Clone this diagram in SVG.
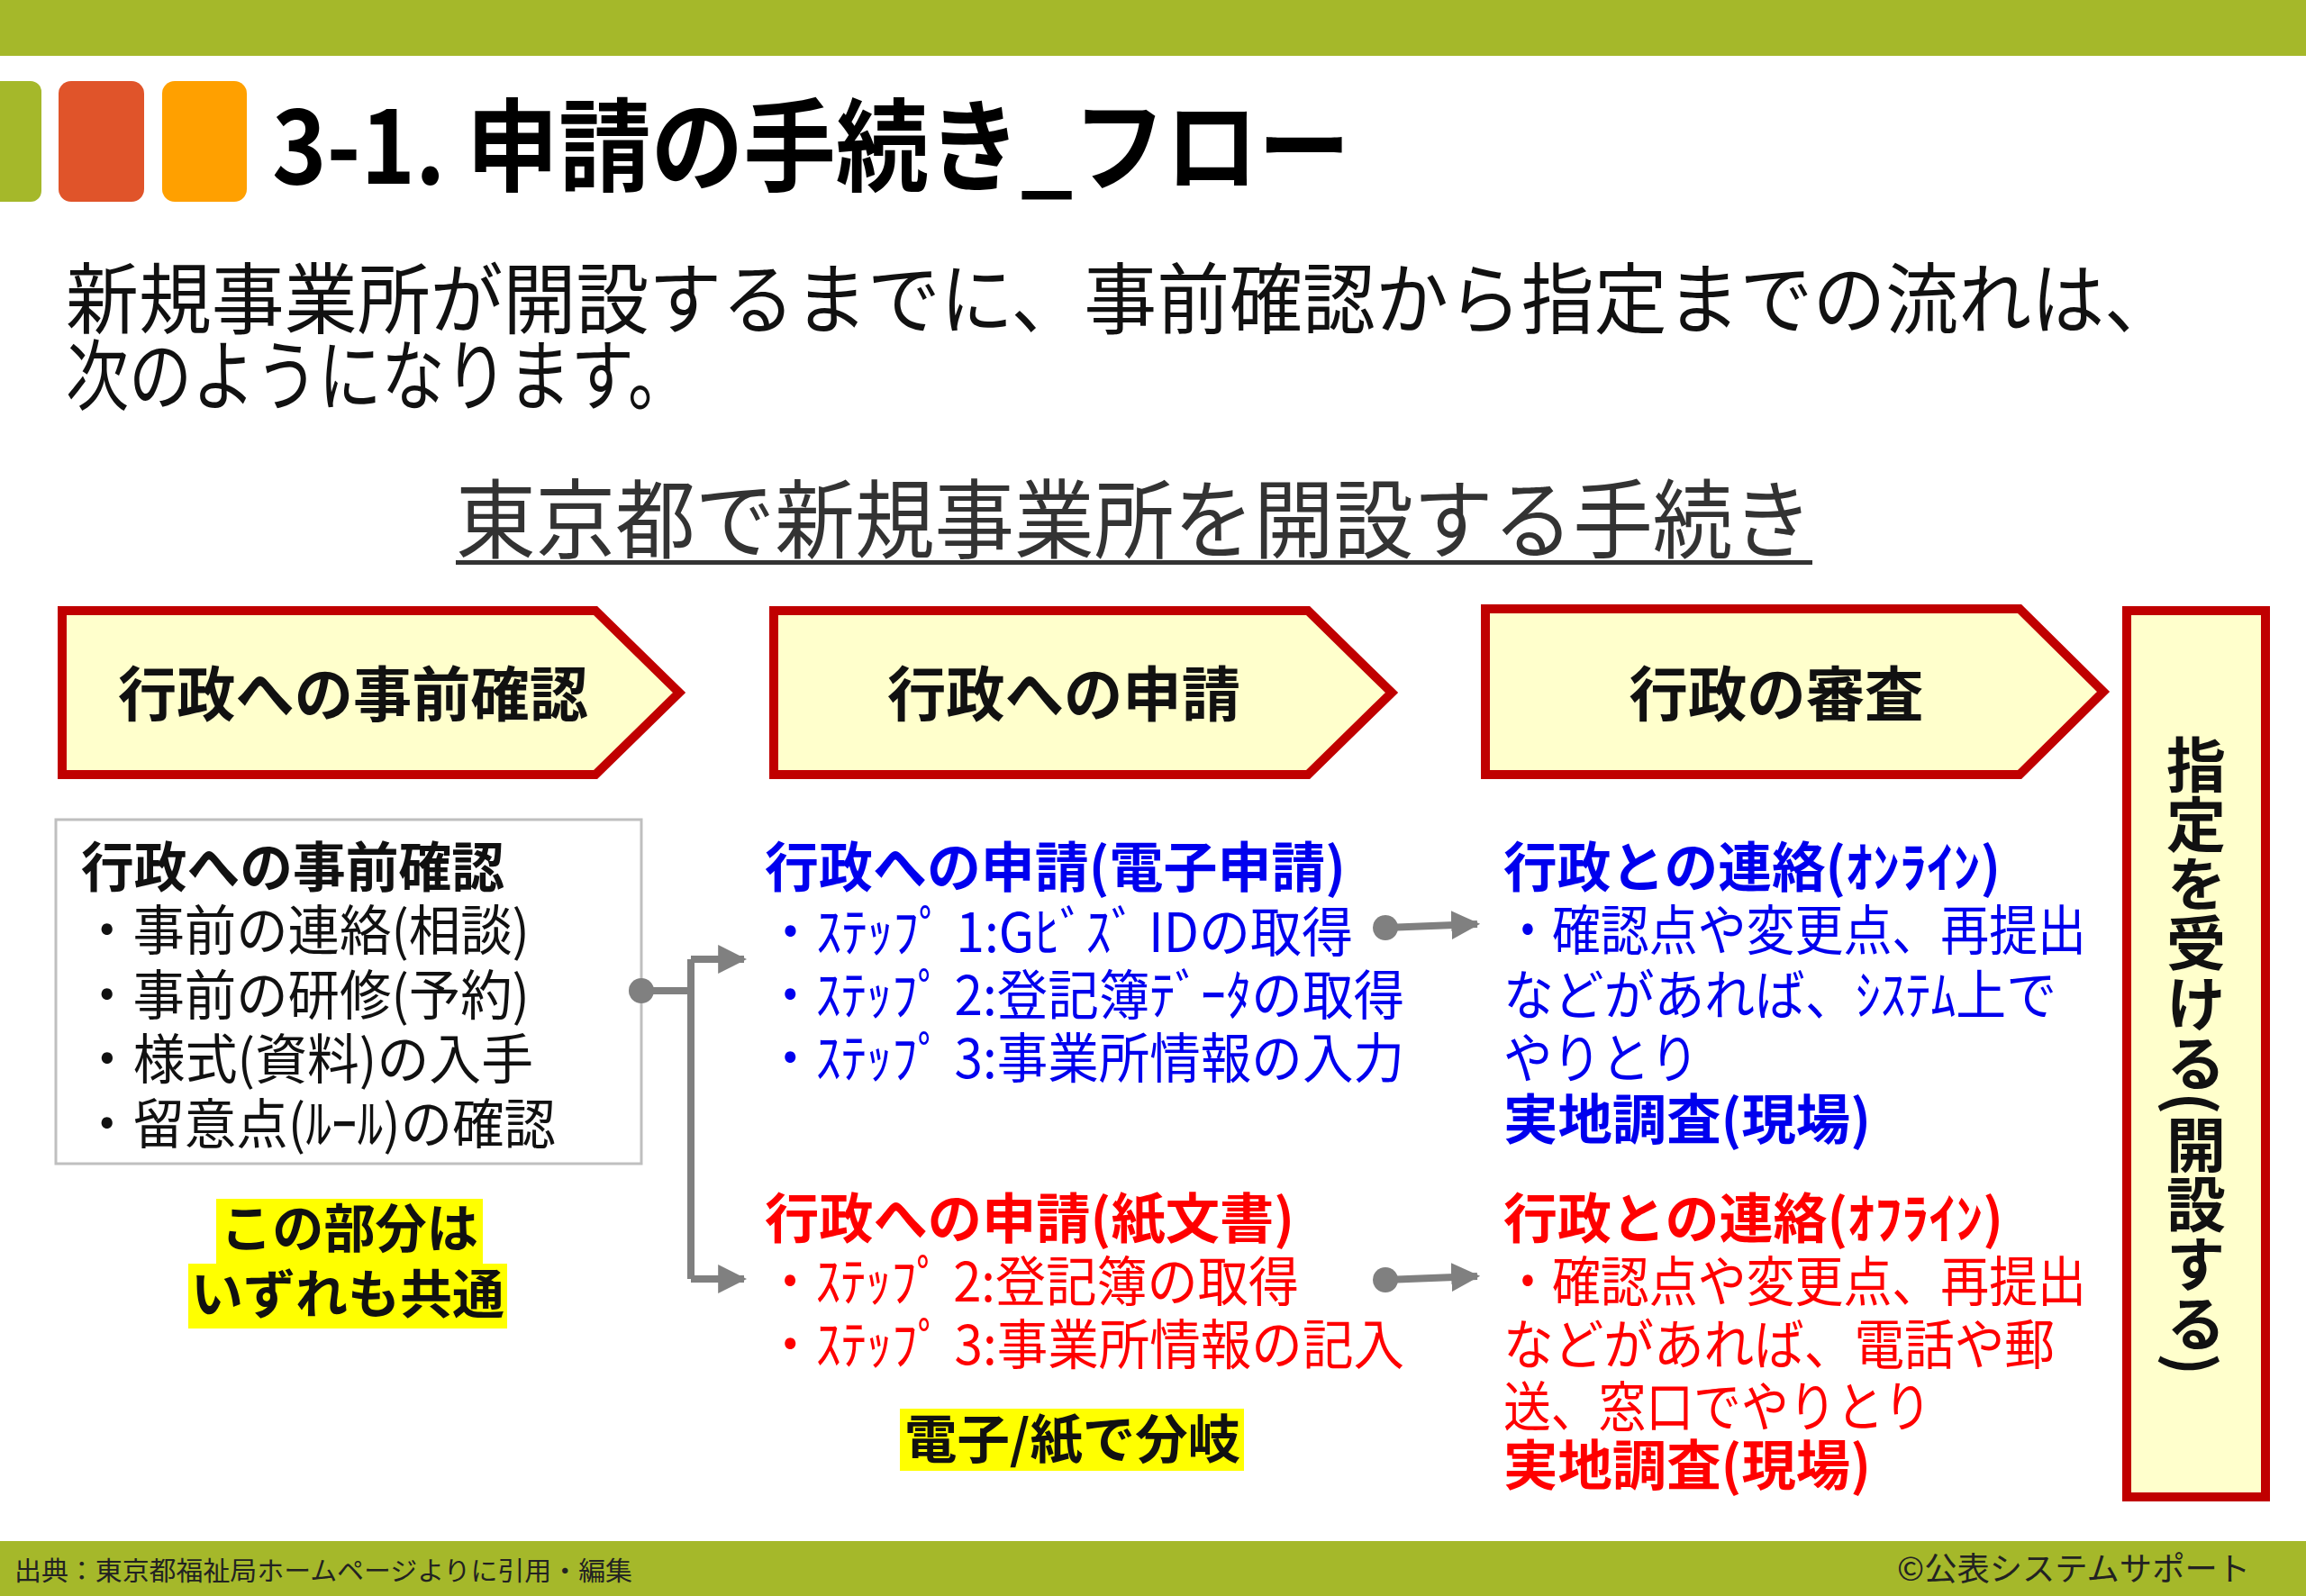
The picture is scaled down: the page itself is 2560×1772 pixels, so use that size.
<svg xmlns="http://www.w3.org/2000/svg" width="2560" height="1772" viewBox="0 0 2560 1772">
<defs>
<style>
text{font-family:"Noto Sans CJK JP","Noto Sans",sans-serif;}
.chev{fill:#FFFFCC;stroke:#C00000;stroke-width:10;stroke-linejoin:miter;}
.ct{font-size:66px;font-weight:bold;fill:#111;text-anchor:middle;}
.bk{font-size:60px;fill:#111;}
.bl{font-size:60px;fill:#0000EE;}
.rd{font-size:60px;fill:#FF0000;}
.b{font-weight:bold;}
.hl{fill:#FFFF00;}
.conn{stroke:#808080;stroke-width:8;fill:none;}
</style>
<marker id="ah" viewBox="0 0 10 10" refX="9" refY="5" markerWidth="4" markerHeight="4" orient="auto" markerUnits="strokeWidth"><path d="M0,0 L10,5 L0,10 Z" fill="#808080"/></marker>
</defs>
<rect width="2560" height="1772" fill="#fff"/>
<rect x="0" y="0" width="2560" height="62" fill="#A5B82A"/>
<rect x="0" y="1711" width="2560" height="61" fill="#A5B82A"/>
<rect x="-20" y="90" width="66" height="134" rx="12" fill="#A5B82A"/>
<rect x="65" y="90" width="95" height="134" rx="14" fill="#E0542A"/>
<rect x="180" y="90" width="94" height="134" rx="14" fill="#FFA000"/>
<text x="302" y="204" font-size="112" font-weight="bold" fill="#000" textLength="1197" lengthAdjust="spacingAndGlyphs">3-1. 申請の手続き_フロー</text>
<text x="73" y="364" font-size="86" fill="#111" textLength="2344" lengthAdjust="spacingAndGlyphs">新規事業所が開設するまでに、事前確認から指定までの流れは、</text>
<text x="73" y="449" font-size="86" fill="#111" textLength="694" lengthAdjust="spacingAndGlyphs">次のようになります。</text>
<text x="506" y="612" font-size="96" fill="#333" textLength="1506" lengthAdjust="spacingAndGlyphs">東京都で新規事業所を開設する手続き</text>
<rect x="506" y="622" width="1506" height="5" fill="#333"/>

<g id="chev1"><polygon class="chev" points="69,678 661,678 754,769 661,860 69,860"/><text class="ct" x="392" y="795" textLength="522" lengthAdjust="spacingAndGlyphs">行政への事前確認</text></g>
<g id="chev2"><polygon class="chev" points="859,678 1452,678 1545,769 1452,860 859,860"/><text class="ct" x="1181" y="795" textLength="392" lengthAdjust="spacingAndGlyphs">行政への申請</text></g>
<g id="chev3"><polygon class="chev" points="1649,676 2242,676 2335,768 2242,860 1649,860"/><text class="ct" x="1972" y="795" textLength="327" lengthAdjust="spacingAndGlyphs">行政の審査</text></g>
<g id="final"><rect x="2361" y="678" width="154" height="984" fill="#FFFFCC" stroke="#C00000" stroke-width="10"/><text x="2438" y="816" font-size="66" font-weight="bold" fill="#111" writing-mode="tb" textLength="711" lengthAdjust="spacingAndGlyphs">指定を受ける(開設する)</text></g>

<g id="pre">
<rect x="62" y="910" width="650" height="382" fill="#fff" stroke="#BFBFBF" stroke-width="3"/>
<text class="bk b" x="90" y="985" textLength="470" lengthAdjust="spacingAndGlyphs">行政への事前確認</text>
<text class="bk" x="90" y="1055" textLength="498" lengthAdjust="spacingAndGlyphs">・事前の連絡(相談)</text>
<text class="bk" x="90" y="1127" textLength="498" lengthAdjust="spacingAndGlyphs">・事前の研修(予約)</text>
<text class="bk" x="90" y="1198" textLength="502" lengthAdjust="spacingAndGlyphs">・様式(資料)の入手</text>
<text class="bk" x="90" y="1270" textLength="527" lengthAdjust="spacingAndGlyphs">・留意点(ﾙｰﾙ)の確認</text>
</g>
<g id="common">
<rect class="hl" x="240" y="1331" width="296" height="72"/>
<rect class="hl" x="209" y="1403" width="354" height="72"/>
<text x="245" y="1385" font-size="58" font-weight="bold" fill="#111" textLength="286" lengthAdjust="spacingAndGlyphs">この部分は</text>
<text x="212" y="1458" font-size="58" font-weight="bold" fill="#111" textLength="348" lengthAdjust="spacingAndGlyphs">いずれも共通</text>
</g>

<g id="online-apply">
<text class="bl b" x="849" y="985" textLength="645" lengthAdjust="spacingAndGlyphs">行政への申請(電子申請)</text>
<text class="bl" x="849" y="1057" textLength="653" lengthAdjust="spacingAndGlyphs">・ｽﾃｯﾌﾟ 1:Gﾋﾞｽﾞ IDの取得</text>
<text class="bl" x="849" y="1127" textLength="710" lengthAdjust="spacingAndGlyphs">・ｽﾃｯﾌﾟ 2:登記簿ﾃﾞｰﾀの取得</text>
<text class="bl" x="849" y="1197" textLength="710" lengthAdjust="spacingAndGlyphs">・ｽﾃｯﾌﾟ 3:事業所情報の入力</text>
</g>
<g id="paper-apply">
<text class="rd b" x="849" y="1375" textLength="588" lengthAdjust="spacingAndGlyphs">行政への申請(紙文書)</text>
<text class="rd" x="849" y="1445" textLength="593" lengthAdjust="spacingAndGlyphs">・ｽﾃｯﾌﾟ 2:登記簿の取得</text>
<text class="rd" x="849" y="1515" textLength="710" lengthAdjust="spacingAndGlyphs">・ｽﾃｯﾌﾟ 3:事業所情報の記入</text>
</g>
<g id="branch">
<rect class="hl" x="999" y="1564" width="382" height="69"/>
<text x="1004" y="1619" font-size="58" font-weight="bold" fill="#111" textLength="373" lengthAdjust="spacingAndGlyphs">電子/紙で分岐</text>
</g>

<g id="online-review">
<text class="bl b" x="1669" y="985" textLength="552" lengthAdjust="spacingAndGlyphs">行政との連絡(ｵﾝﾗｲﾝ)</text>
<text class="bl" x="1669" y="1055" textLength="647" lengthAdjust="spacingAndGlyphs">・確認点や変更点、再提出</text>
<text class="bl" x="1669" y="1127" textLength="614" lengthAdjust="spacingAndGlyphs">などがあれば、ｼｽﾃﾑ上で</text>
<text class="bl" x="1669" y="1197" textLength="217" lengthAdjust="spacingAndGlyphs">やりとり</text>
<text class="bl b" x="1669" y="1265" textLength="408" lengthAdjust="spacingAndGlyphs">実地調査(現場)</text>
</g>
<g id="offline-review">
<text class="rd b" x="1669" y="1375" textLength="555" lengthAdjust="spacingAndGlyphs">行政との連絡(ｵﾌﾗｲﾝ)</text>
<text class="rd" x="1669" y="1445" textLength="647" lengthAdjust="spacingAndGlyphs">・確認点や変更点、再提出</text>
<text class="rd" x="1669" y="1515" textLength="612" lengthAdjust="spacingAndGlyphs">などがあれば、電話や郵</text>
<text class="rd" x="1669" y="1584" textLength="475" lengthAdjust="spacingAndGlyphs">送、窓口でやりとり</text>
<text class="rd b" x="1669" y="1649" textLength="408" lengthAdjust="spacingAndGlyphs">実地調査(現場)</text>
</g>

<g id="connectors">
<circle cx="712" cy="1100" r="14" fill="#808080"/>
<path class="conn" d="M712,1100 H767"/>
<path class="conn" d="M767,1065 V1420"/>
<path class="conn" d="M767,1065 H826" marker-end="url(#ah)"/>
<path class="conn" d="M767,1420 H826" marker-end="url(#ah)"/>
<circle cx="1538" cy="1030" r="14" fill="#808080"/>
<path class="conn" d="M1538,1030 L1640,1026" marker-end="url(#ah)"/>
<circle cx="1538" cy="1421" r="14" fill="#808080"/>
<path class="conn" d="M1538,1421 L1640,1417" marker-end="url(#ah)"/>
</g>

<text x="16" y="1755" font-size="29" fill="#222" textLength="686" lengthAdjust="spacingAndGlyphs">出典：東京都福祉局ホームページよりに引用・編集</text>
<text x="2498" y="1755" font-size="36" fill="#222" text-anchor="end" textLength="392" lengthAdjust="spacingAndGlyphs">©公表システムサポート</text>
</svg>
